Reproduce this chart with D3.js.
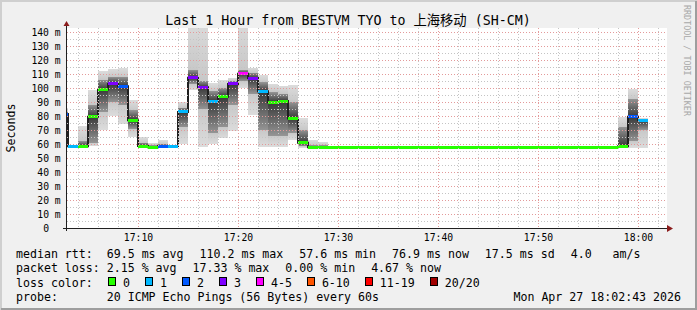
<!DOCTYPE html>
<html>
<head>
<meta charset="utf-8">
<script src="https://cdn.jsdelivr.net/npm/d3@7"></script>
<style>
html, body { margin: 0; padding: 0; background: #f0f0f0; }
svg { display: block; }
text { font-family: "DejaVu Sans Mono", "Noto Sans CJK SC", monospace; fill: #000; white-space: pre; }
</style>
</head>
<body>
<svg id="chart"></svg>
<script>
// chart data, one step per minute starting 17:02 (first step partly hidden)
const title = "Last 1 Hour from BESTVM TYO to 上海移动 (SH-CM)";
const firstStep = "17:02";

const median = [81.4, 58.4, 58.4, 79.5, 99.0, 102.9, 101.2, 77.0, 58.5, 57.6,
    58.5, 58.5, 82.9, 107.4, 100.5, 90.7, 93.8, 102.9, 110.2, 107.1,
    97.6, 89.8, 90.7, 78.3, 60.9, 57.6, 57.6, 57.8, 57.8, 57.8,
    57.8, 57.8, 57.8, 57.8, 57.8, 57.8, 57.8, 57.8, 57.8, 57.8,
    57.8, 57.8, 57.8, 57.8, 57.8, 57.8, 57.8, 57.8, 57.8, 57.8,
    57.8, 57.8, 57.8, 57.8, 57.8, 57.8, 58.4, 79.5, 76.9];

// lost pings out of 20
const lossCount = [2, 1, 0, 0, 0, 3, 2, 0, 0, 0,
    2, 1, 1, 3, 3, 1, 0, 3, 4, 3,
    1, 0, 0, 0, 0, 0, 0, 0, 0, 0,
    0, 0, 0, 0, 0, 0, 0, 0, 0, 0,
    0, 0, 0, 0, 0, 0, 0, 0, 0, 0,
    0, 0, 0, 0, 0, 0, 0, 2, 1];

// smoke: lowest ping, lower core, upper core, highest ping
const smokeLo = [77, 58.4, 58, 58.5, 70, 80, 74, 65, 58, 57.4,
    58, 58.5, 59.8, 98.6, 58, 60, 64, 69, 100, 81,
    58, 58, 58, 63, 57.4, 57.4, 57.4, 57.8, 57.8, 57.8,
    57.8, 57.8, 57.8, 57.8, 57.8, 57.8, 57.8, 57.8, 57.8, 57.8,
    57.8, 57.8, 57.8, 57.8, 57.8, 57.8, 57.8, 57.8, 57.8, 57.8,
    57.8, 57.8, 57.8, 57.8, 57.8, 57.8, 58, 57.5, 57.5];
const smokeQ1 = [79, 58.4, 58.2, 61, 83, 90, 88, 71, 58.3, 57.5,
    58.3, 58.5, 72, 103, 85, 68, 72, 88, 105, 96,
    70, 66, 66, 68, 58.5, 57.5, 57.5, 57.8, 57.8, 57.8,
    57.8, 57.8, 57.8, 57.8, 57.8, 57.8, 57.8, 57.8, 57.8, 57.8,
    57.8, 57.8, 57.8, 57.8, 57.8, 57.8, 57.8, 57.8, 57.8, 57.8,
    57.8, 57.8, 57.8, 57.8, 57.8, 57.8, 59, 62, 70];
const smokeQ3 = [83, 58.4, 62, 88, 106, 108, 108, 84, 61, 59,
    60, 58.5, 86, 113, 105, 98, 100, 105, 113, 111,
    104, 97, 96, 90, 70, 59, 59, 57.8, 57.8, 57.8,
    57.8, 57.8, 57.8, 57.8, 57.8, 57.8, 57.8, 57.8, 57.8, 57.8,
    57.8, 57.8, 57.8, 57.8, 57.8, 57.8, 57.8, 57.8, 57.8, 57.8,
    57.8, 57.8, 57.8, 57.8, 57.8, 57.8, 72, 92, 77.5];
const smokeHi = [85.5, 58.4, 73, 98.5, 112, 113.6, 114, 91.4, 64.7, 61,
    62.9, 58.5, 90.2, 150, 150, 103.5, 105.5, 107.4, 150, 114.5,
    109.3, 103, 101.7, 102, 78.5, 62.9, 61.5, 57.8, 57.8, 57.8,
    57.8, 57.8, 57.8, 57.8, 57.8, 57.8, 57.8, 57.8, 57.8, 57.8,
    57.8, 57.8, 57.8, 57.8, 57.8, 57.8, 57.8, 57.8, 57.8, 57.8,
    57.8, 57.8, 57.8, 57.8, 57.8, 57.8, 79, 99.3, 78.5];

const yTickValues = [0, 10, 20, 30, 40, 50, 60, 70, 80, 90, 100, 110, 120, 130, 140];
const xTickLabels = ["17:10", "17:20", "17:30", "17:40", "17:50", "18:00"];

const lossLabels = ["0", "1", "2", "3", "4-5", "6-10", "11-19", "20/20"];
const lossColors = ["#26ff00", "#00b8ff", "#0059ff", "#7e00ff", "#ff00ff", "#ff5500", "#ff0000", "#a10000"];
const lossBreaks = [1, 2, 3, 4, 6, 11, 20];

const rttItems = ["median rtt:  69.5 ms avg", "110.2 ms max", "57.6 ms min", "76.9 ms now", "17.5 ms sd", "4.0   am/s"];
const lossItems = ["packet loss: 2.15 % avg", "17.33 % max", "0.00 % min", "4.67 % now"];
const probeText = "probe:       20 ICMP Echo Pings (56 Bytes) every 60s";
const dateText = "Mon Apr 27 18:02:43 2026";

const width = 697, height = 310;
const pLeft = 67, pRight = 667, pTop = 28, pBottom = 228;

const parseHM = d3.timeParse("%H:%M");
const parseHMS = d3.timeParse("%H:%M:%S");
const x = d3.scaleTime()
    .domain([parseHMS("17:02:54"), parseHMS("18:02:54")])
    .range([pLeft, pRight]);
const y = d3.scaleLinear().domain([0, 140]).range([pBottom, 32]);
const lossColor = d3.scaleThreshold().domain(lossBreaks).range(lossColors);

const t0 = parseHM(firstStep);
const times = d3.range(median.length + 1).map(i => d3.timeMinute.offset(t0, i));

const svg = d3.select("#chart").attr("width", width).attr("height", height);

// frame
svg.append("rect").attr("width", width).attr("height", height).attr("fill", "#f0f0f0");
svg.append("path").attr("d", `M1,${height} V1 H${width}`).attr("stroke", "#cfcfcf").attr("stroke-width", 2).attr("fill", "none");
svg.append("path").attr("d", `M1,${height - 1} H${width - 1} V1`).attr("stroke", "#9e9e9e").attr("stroke-width", 2).attr("fill", "none");

svg.append("rect").attr("x", pLeft).attr("y", pTop).attr("width", pRight - pLeft).attr("height", pBottom - pTop).attr("fill", "#fff");

const defs = svg.append("defs");
defs.append("clipPath").attr("id", "plot")
    .append("rect").attr("x", pLeft).attr("y", pTop).attr("width", pRight - pLeft).attr("height", pBottom - pTop);

// smoke
const steps = median.map((m, i) => ({
    i, med: m, loss: lossCount[i], lo: smokeLo[i], q1: smokeQ1[i], q3: smokeQ3[i], hi: smokeHi[i],
    x0: x(times[i]), x1: x(times[i + 1])
}));

const smokeSteps = steps.filter(d => d.hi > d.lo);
smokeSteps.forEach(d => {
    const yHi = y(d.hi), yLo = y(d.lo);
    const off = v => (y(v) - yHi) / (yLo - yHi);
    const g = defs.append("linearGradient").attr("id", "smoke" + d.i)
        .attr("gradientUnits", "userSpaceOnUse")
        .attr("x1", 0).attr("x2", 0).attr("y1", yHi).attr("y2", yLo);
    [[d.hi, "#dcdcdc"], [d.q3, "#c8c8c8"], [d.q3, "#949494"], [d.med, "#383838"],
     [d.q1, "#949494"], [d.q1, "#c8c8c8"], [d.lo, "#dcdcdc"]].forEach(s => {
        g.append("stop").attr("offset", off(s[0])).attr("stop-color", s[1]);
    });
});

const plot = svg.append("g").attr("clip-path", "url(#plot)");
plot.selectAll("rect.smoke").data(smokeSteps).enter().append("rect")
    .attr("class", "smoke")
    .attr("x", d => d.x0).attr("width", d => d.x1 - d.x0)
    .attr("y", d => y(d.hi)).attr("height", d => y(d.lo) - y(d.hi))
    .attr("fill", d => "url(#smoke" + d.i + ")")
    .attr("shape-rendering", "crispEdges");

// grid
const grid = svg.append("g").attr("shape-rendering", "crispEdges").attr("fill", "none");
const minorY = d3.range(5, 141, 10);
grid.selectAll("line.hmin").data(minorY).enter().append("line")
    .attr("x1", pLeft).attr("x2", pRight)
    .attr("y1", d => Math.round(y(d)) + 0.5).attr("y2", d => Math.round(y(d)) + 0.5)
    .attr("stroke", "#c4c4c4").attr("stroke-dasharray", "1,2");
const minorX = d3.timeMinute.every(2).range(x.domain()[0], x.domain()[1])
    .filter(t => t.getMinutes() % 10 !== 0);
grid.selectAll("line.vmin").data(minorX).enter().append("line")
    .attr("x1", d => Math.round(x(d)) + 0.5).attr("x2", d => Math.round(x(d)) + 0.5)
    .attr("y1", pTop).attr("y2", pBottom)
    .attr("stroke", "#c4c4c4").attr("stroke-dasharray", "1,2");
grid.selectAll("line.hmaj").data(yTickValues.slice(1)).enter().append("line")
    .attr("x1", pLeft).attr("x2", pRight)
    .attr("y1", d => Math.round(y(d)) + 0.5).attr("y2", d => Math.round(y(d)) + 0.5)
    .attr("stroke", "#e39a9a").attr("stroke-dasharray", "1,2");
const majorX = xTickLabels.map(s => parseHM(s));
grid.selectAll("line.vmaj").data(majorX).enter().append("line")
    .attr("x1", d => Math.round(x(d)) + 0.5).attr("x2", d => Math.round(x(d)) + 0.5)
    .attr("y1", pTop).attr("y2", pBottom)
    .attr("stroke", "#e39a9a").attr("stroke-dasharray", "1,2");

// median line and loss coloured steps
const medLine = d3.line().curve(d3.curveStepAfter)
    .x(d => d[0]).y(d => d[1]);
const pts = steps.map(d => [d.x0, y(d.med)]);
pts.push([steps[steps.length - 1].x1, y(median[median.length - 1])]);
plot.append("path").attr("d", medLine(pts))
    .attr("fill", "none").attr("stroke", "#202020").attr("stroke-width", 2);
plot.selectAll("line.med").data(steps).enter().append("line")
    .attr("x1", d => d.x0).attr("x2", d => d.x1)
    .attr("y1", d => y(d.med)).attr("y2", d => y(d.med))
    .attr("stroke", d => lossColor(d.loss)).attr("stroke-width", 3)
    .attr("shape-rendering", "crispEdges");

// axes
const axisG = svg.append("g");
const ax = pLeft - 0.5;
axisG.append("line").attr("x1", pLeft - 4).attr("x2", pRight + 2)
    .attr("y1", pBottom + 0.5).attr("y2", pBottom + 0.5).attr("stroke", "#202020")
    .attr("shape-rendering", "crispEdges");
axisG.append("line").attr("x1", ax).attr("x2", ax)
    .attr("y1", pBottom + 3).attr("y2", pTop - 2).attr("stroke", "#202020")
    .attr("shape-rendering", "crispEdges");
axisG.append("path").attr("d", `M${pRight},${pBottom - 3} L${pRight + 6},${pBottom + 0.5} L${pRight},${pBottom + 4} Z`)
    .attr("fill", "#8b1c1c");
axisG.append("path").attr("d", `M${ax - 3},${pTop - 2} L${ax},${pTop - 7} L${ax + 3},${pTop - 2} Z`)
    .attr("fill", "#8b1c1c");

const axisFont = "9.72px", cw = 5.85;
svg.append("g").selectAll("text").data(yTickValues).enter().append("text")
    .attr("x", d => d === 0 ? 60.7 - 2 * cw : 60.7)
    .attr("y", d => y(d) + 3.5)
    .attr("text-anchor", "end")
    .style("font-size", axisFont)
    .text(d => d === 0 ? "0" : d + " m");

svg.append("g").selectAll("text").data(majorX).enter().append("text")
    .attr("x", d => x(d) + 0.5)
    .attr("y", 240.5)
    .attr("text-anchor", "middle")
    .style("font-size", axisFont)
    .text((d, i) => xTickLabels[i]);

// titles
svg.append("text").attr("x", 348).attr("y", 25).attr("text-anchor", "middle")
    .style("font-size", "13.3px").text(title);
svg.append("text").attr("transform", "translate(15,128) rotate(-90)")
    .attr("text-anchor", "middle").style("font-size", "11.6px").text("Seconds");
svg.append("text").attr("transform", "translate(684,5) rotate(90)")
    .style("font-size", "8.4px").style("fill", "#a8a8a8").text("RRDTOOL / TOBI OETIKER");

// legend: items laid out one after another with a fixed gap, like rrdtool
const legendFont = "11.6px", glue = 16;
function legendRow(items, yPos) {
    let lx = 16;
    items.forEach(s => {
        const t = svg.append("text").attr("x", lx).attr("y", yPos)
            .style("font-size", legendFont).text(s);
        lx += t.node().getComputedTextLength() + glue;
    });
}
legendRow(rttItems, 258);
legendRow(lossItems, 272.3);

svg.append("text").attr("x", 16).attr("y", 286.6).style("font-size", legendFont).text("loss color:");
let bx = 108;
lossLabels.forEach((label, i) => {
    svg.append("rect").attr("x", bx + 0.5).attr("y", 277.5).attr("width", 7).attr("height", 8)
        .attr("fill", lossColors[i]).attr("stroke", "#000").attr("shape-rendering", "crispEdges");
    const t = svg.append("text").attr("x", bx + 15).attr("y", 286.6)
        .style("font-size", legendFont).text(label);
    bx = bx + 15 + t.node().getComputedTextLength() + 15;
});
svg.append("text").attr("x", 16).attr("y", 300.9).style("font-size", legendFont).text(probeText);
svg.append("text").attr("x", 681).attr("y", 300.9).attr("text-anchor", "end")
    .style("font-size", legendFont).text(dateText);
</script>
</body>
</html>
